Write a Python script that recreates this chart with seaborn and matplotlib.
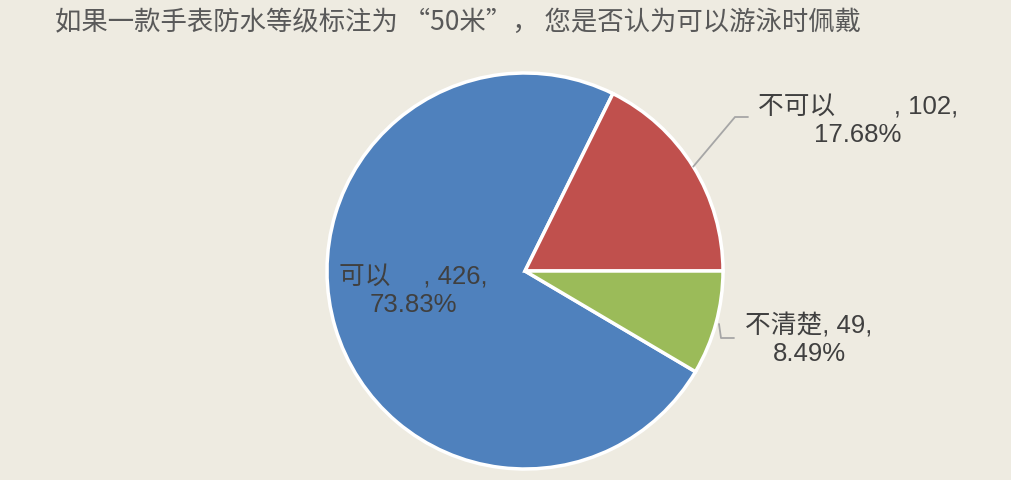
import numpy as np
import matplotlib
matplotlib.use("Agg")
import matplotlib.pyplot as plt
import seaborn as sns

sns.set_theme(style="white")
plt.rcParams['font.family'] = ['Liberation Sans', 'Noto Sans CJK SC', 'DejaVu Sans']

# data
categories = ['可以', '不可以', '不清楚']
counts = [426, 102, 49]
percents = ['73.83%', '17.68%', '8.49%']
colors = ['#4F81BD', '#C0504D', '#9BBB59']
title = '如果一款手表防水等级标注为 “50米”， 您是否认为可以游泳时佩戴'

bg = '#EEEBE1'
W, H = 1011, 481
fig = plt.figure(figsize=(W / 100, H / 100), dpi=100, facecolor=bg)
ax = fig.add_axes([0, 0, 1, 1])
ax.set_facecolor(bg)

cx, cy, r = 525, H - 272, 198
total = sum(counts)
start = -360 * counts[2] / total

wedges, _ = ax.pie(counts, colors=colors, startangle=start, counterclock=False,
                   center=(cx, cy), radius=r, frame=True,
                   wedgeprops=dict(edgecolor='white', linewidth=2.5))
ax.set_xlim(0, W)
ax.set_ylim(0, H)
ax.set_aspect('equal')
ax.axis('off')

txt_color = '#404040'
fs = 18.5
ls = 1.2

def edge_point(w, frac=1.0):
    mid = np.deg2rad((w.theta1 + w.theta2) / 2)
    return cx + r * frac * np.cos(mid), cy + r * frac * np.sin(mid)

# 可以 label inside the blue slice
ax.text(413, H - 291, f'{categories[0]}\u3000 , {counts[0]},\n{percents[0]}',
        ha='center', va='center', fontsize=fs, color=txt_color, linespacing=ls)

# 不可以 label with leader line
x0, y0 = edge_point(wedges[1])
ax.plot([x0, 735, 748], [y0, H - 118, H - 118], color='#A6A6A6', lw=1.3,
        solid_joinstyle='miter')
ax.text(858, H - 121, f'{categories[1]}\u3000\u3000 , {counts[1]},\n{percents[1]}',
        ha='center', va='center', fontsize=fs, color=txt_color, linespacing=ls)

# 不清楚 label with leader line
x1, y1 = edge_point(wedges[2])
ax.plot([x1 + 3, x1 + 5, x1 + 18], [H - 325, H - 339, H - 339], color='#A6A6A6', lw=1.3)
ax.text(809, H - 340, f'{categories[2]}, {counts[2]},\n{percents[2]}',
        ha='center', va='center', fontsize=fs, color=txt_color, linespacing=ls)

fig.text(55 / W, 1 - 22 / H, title, ha='left', va='center', fontsize=19,
         color='#595959', family=['Noto Sans CJK SC', 'DejaVu Sans'])

fig.savefig('out.png', dpi=100, facecolor=bg)
